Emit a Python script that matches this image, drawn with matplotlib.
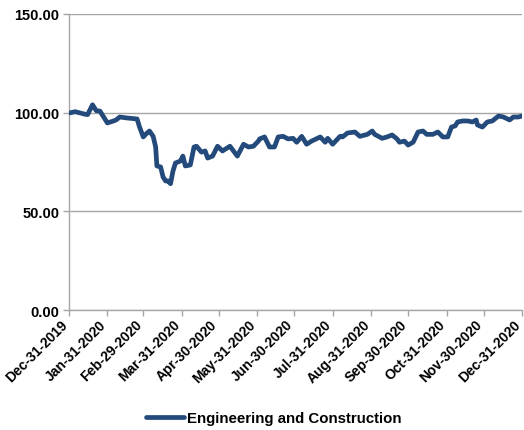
import numpy as np
import matplotlib
matplotlib.use("Agg")
import matplotlib.pyplot as plt
import matplotlib.dates as mdates
import matplotlib.transforms as mtransforms

series_name = "Engineering and Construction"
start_date = "2019-12-31"
days_since_start = [0, 5, 13, 15, 19, 22, 25, 31, 36, 38, 41, 47, 55, 57, 60, 63, 65, 68, 70, 71,
                    74, 76, 78, 80, 82, 84, 86, 90, 92, 94, 98, 101, 103, 107, 110, 112, 116, 120,
                    124, 130, 136, 141, 145, 149, 153, 154, 158, 162, 166, 169, 173, 177, 181, 184,
                    188, 192, 196, 203, 207, 209, 213, 219, 221, 225, 231, 235, 241, 245, 247, 253,
                    257, 261, 265, 267, 271, 274, 278, 282, 286, 289, 294, 298, 302, 306, 309, 312,
                    314, 318, 322, 326, 329, 330, 334, 338, 342, 344, 347, 351, 356, 359, 363, 366]
values = [99.8, 100.5, 99.2, 99.0, 104.0, 101.0, 100.8, 94.8, 95.8, 96.3, 97.8, 97.3, 96.8, 92.7,
          87.7, 89.7, 90.7, 88.0, 82.6, 73.0, 72.5, 67.4, 65.4, 65.4, 64.0, 70.4, 74.5, 75.5, 78.0,
          73.0, 73.5, 82.6, 83.0, 80.0, 80.6, 77.0, 78.0, 83.0, 80.6, 83.0, 78.0, 84.0, 82.6, 83.0,
          85.6, 86.7, 87.7, 82.6, 82.6, 87.7, 88.0, 86.7, 87.0, 85.0, 88.0, 84.0, 85.6, 87.7, 85.0,
          87.0, 84.0, 88.0, 87.7, 89.7, 90.2, 88.0, 89.0, 90.7, 89.0, 87.0, 87.7, 88.7, 86.7, 85.0,
          85.6, 83.6, 85.0, 90.2, 90.7, 89.0, 89.0, 90.2, 87.7, 87.7, 92.7, 93.3, 95.3, 95.8, 95.8,
          95.3, 96.3, 93.8, 92.7, 95.3, 95.8, 96.8, 98.3, 97.8, 96.3, 97.8, 97.8, 98.3]
tick_dates = ["2019-12-31", "2020-01-31", "2020-02-29", "2020-03-31", "2020-04-30", "2020-05-31",
              "2020-06-30", "2020-07-31", "2020-08-31", "2020-09-30", "2020-10-31", "2020-11-30",
              "2020-12-31"]
y_ticks = [0, 50, 100, 150]

plt.rcParams['font.family'] = ['Liberation Sans', 'DejaVu Sans']

dates = np.datetime64(start_date) + np.array(days_since_start).astype('timedelta64[D]')
tdates = np.array(tick_dates, dtype='datetime64[D]')

fig = plt.figure(figsize=(5.24, 4.31), dpi=100)
ax = fig.add_axes([0.1317, 0.2784, 0.9962 - 0.1317, 0.9652 - 0.2784])

line_color = "#234A7B"
grid_color = "#A6A6A6"
ax.plot(dates, values, color=line_color, lw=3.4, solid_joinstyle='round',
        solid_capstyle='round', label=series_name, zorder=3)

ax.set_ylim(0, 150)
ax.set_yticks(y_ticks)
ax.set_yticklabels([f"{v:.2f}" for v in y_ticks], fontsize=10.5, fontweight='bold')
ax.set_xlim(tdates[0], tdates[-1])
ax.set_xticks(tdates)
ax.set_xticklabels([])

# rotated tick labels, shifted slightly left so the last one stays inside the figure
label_trans = ax.get_xaxis_transform() + mtransforms.ScaledTranslation(-8.5 / 100, -7 / 100,
                                                                        fig.dpi_scale_trans)
for d in tdates:
    ax.text(d, 0, mdates.num2date(mdates.date2num(d)).strftime('%b-%d-%Y'),
            transform=label_trans, rotation=45, ha='right', va='top', rotation_mode='anchor',
            fontsize=10.0, fontweight='bold', clip_on=False)

ax.grid(axis='y', color=grid_color, lw=1.0)
ax.set_axisbelow(True)
for s in ['top', 'right']:
    ax.spines[s].set_visible(False)
for s in ['left', 'bottom']:
    ax.spines[s].set_color(grid_color)
    ax.spines[s].set_linewidth(1.0)
ax.tick_params(axis='both', color=grid_color, length=4, width=1.0)
ax.tick_params(axis='y', pad=3)

leg = fig.legend(loc='center', bbox_to_anchor=(0.523, 1 - 419 / 431), frameon=False,
                 prop={'size': 10.8, 'weight': 'bold'}, handlelength=2.5, handletextpad=0.25)

fig.savefig("out.png", dpi=100)
